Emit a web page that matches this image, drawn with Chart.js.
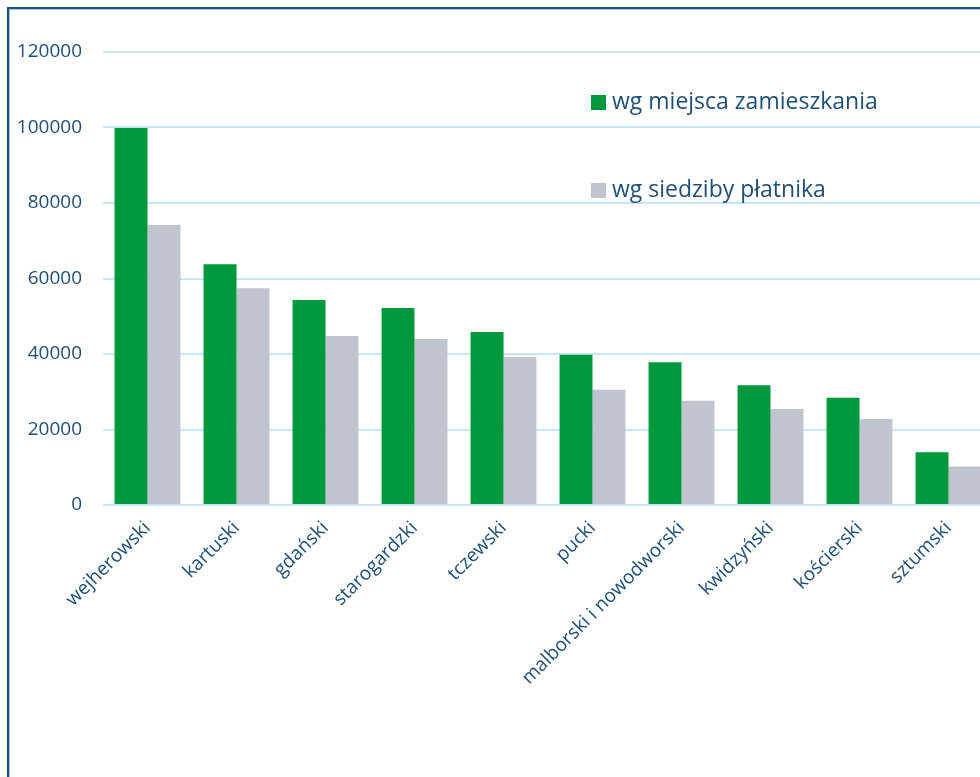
<!DOCTYPE html>
<html lang="pl">
<head>
<meta charset="UTF-8">
<title>Wykres powiaty</title>
<script src="https://cdn.jsdelivr.net/npm/chart.js"></script>
<style>
  html, body { margin: 0; padding: 0; background: #fff; overflow: hidden; width: 980px; height: 777px; }
  #ramka { position: absolute; left: 7px; top: 7px; width: 1100px; height: 900px;
           border: 2px solid #1F4E79; box-shadow: inset 1px 1px 0 #9DC3E6; }
  #wykres { position: absolute; left: 0; top: 0; }
  .leg { position: absolute; font-family: "Open Sans", sans-serif; font-size: 23px; line-height: 30px; color: #1F4E79; white-space: nowrap; }
  .leg span { display: inline-block; width: 15px; height: 15px; margin-right: 6px; vertical-align: -1px; }
</style>
</head>
<body>
<div id="ramka"></div>
<canvas id="wykres" width="993" height="777" style="width:993px;height:777px"></canvas>
<div class="leg" id="leg1" style="left:591px;top:85px"></div>
<div class="leg" id="leg2" style="left:591px;top:173px"></div>
<script>
  const powiaty = ['wejherowski', 'kartuski', 'gdański', 'starogardzki', 'tczewski', 'pucki',
                   'malborski i nowodworski', 'kwidzyński', 'kościerski', 'sztumski'];
  const wgZamieszkania = [99900, 63800, 54300, 52200, 45800, 39800, 37800, 31700, 28400, 14000];
  const wgPlatnika = [74200, 57400, 44800, 44000, 39200, 30500, 27600, 25400, 22800, 10200];
  const nazwySerii = ['wg miejsca zamieszkania', 'wg siedziby płatnika'];
  const kolory = ['#00983D', '#C0C4CE'];
  const granat = '#1F4E79';

  document.getElementById('leg1').innerHTML = '<span style="background:' + kolory[0] + '"></span>' + nazwySerii[0];
  document.getElementById('leg2').innerHTML = '<span style="background:' + kolory[1] + '"></span>' + nazwySerii[1];

  Chart.defaults.font.family = '"Open Sans", sans-serif';
  Chart.defaults.color = granat;

  new Chart(document.getElementById('wykres').getContext('2d'), {
    type: 'bar',
    data: {
      labels: powiaty,
      datasets: [
        { label: nazwySerii[0], data: wgZamieszkania, backgroundColor: kolory[0] },
        { label: nazwySerii[1], data: wgPlatnika, backgroundColor: kolory[1] }
      ]
    },
    options: {
      responsive: false,
      animation: false,
      layout: { padding: { left: 10, top: 52, right: 0, bottom: 0 } },
      datasets: { bar: { barPercentage: 1, categoryPercentage: 0.74 } },
      plugins: { legend: { display: false }, tooltip: { enabled: false } },
      scales: {
        x: {
          grid: { display: false },
          border: { display: false },
          ticks: { font: { size: 19 }, minRotation: 45, maxRotation: 45, padding: 4 },
          afterFit: (s) => { s.height = 777 - 505; }
        },
        y: {
          min: 0, max: 120000,
          ticks: { stepSize: 20000, font: { size: 19 }, padding: 21, callback: (v) => String(v) },
          grid: { color: '#C9E4FA', lineWidth: 2, drawTicks: false },
          border: { display: false },
          afterFit: (s) => { s.width = 93; }
        }
      }
    }
  });
</script>
</body>
</html>
